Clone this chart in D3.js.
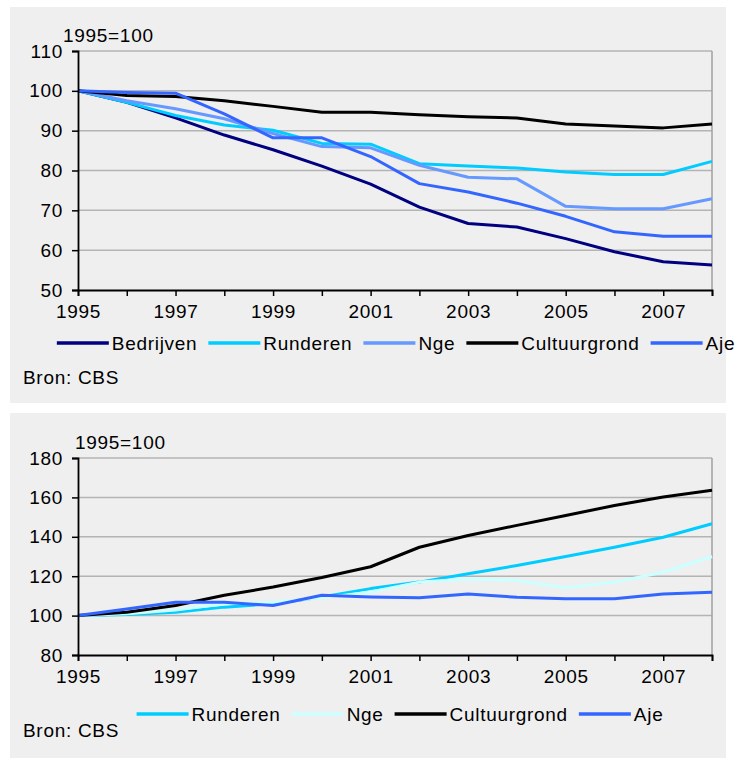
<!DOCTYPE html>
<html>
<head>
<meta charset="utf-8">
<script src="https://cdn.jsdelivr.net/npm/d3@7"></script>
<style>
    body { margin: 0; background: #ffffff; }
    svg text { font-family: "Liberation Sans", Arial, sans-serif; font-size: 19px; fill: #000; letter-spacing: 0.7px; }
</style>
</head>
<body>
<div id="chart"></div>
<script>
// Years on the x axis and the labelled ones
const years = [1995, 1996, 1997, 1998, 1999, 2000, 2001, 2002, 2003, 2004, 2005, 2006, 2007, 2008];
const yearLabels = [1995, 1997, 1999, 2001, 2003, 2005, 2007];

// Top chart (1995=100)
const topTicks = [50, 60, 70, 80, 90, 100, 110];
const bedrijven = [100, 97.1, 93.2, 88.9, 85.2, 81.1, 76.6, 70.8, 66.7, 65.8, 62.9, 59.6, 57.1, 56.3];
const runderenTop = [100, 97.1, 93.8, 91.4, 90.1, 86.8, 86.6, 81.7, 81.1, 80.6, 79.6, 79.0, 79.0, 82.3];
const ngeTop = [100, 97.5, 95.5, 93.0, 89.3, 86.0, 85.7, 81.3, 78.3, 77.9, 71.0, 70.4, 70.4, 72.9];
const cultuurgrondTop = [100, 98.8, 98.6, 97.5, 96.1, 94.6, 94.6, 94.0, 93.5, 93.2, 91.7, 91.2, 90.7, 91.7];
const ajeTop = [100, 99.6, 99.4, 94.2, 88.2, 88.2, 83.5, 76.7, 74.6, 71.8, 68.5, 64.6, 63.5, 63.5];

// Bottom chart (1995=100)
const bottomTicks = [80, 100, 120, 140, 160, 180];
const runderenBottom = [100, 100.5, 101.7, 104.3, 106.0, 109.4, 113.7, 117.0, 121.2, 125.4, 130.0, 134.7, 139.8, 146.6];
const ngeBottom = [100, 100.9, 102.9, 106.0, 106.8, 109.0, 112.0, 117.0, 118.6, 117.8, 114.1, 117.0, 122.0, 130.0];
const cultuurgrondBottom = [100, 101.7, 105.1, 110.3, 114.5, 119.3, 124.8, 134.7, 140.7, 145.8, 150.8, 155.9, 160.2, 163.6];
const ajeBottom = [100, 103.4, 106.8, 106.8, 105.1, 110.3, 109.4, 109.0, 111.0, 109.3, 108.5, 108.5, 111.0, 111.9];

class LineChart {
    constructor(_config, _series) {
        this.config = _config;
        this.series = _series;
        this.InitVis();
    }

    InitVis() {
        const vis = this;
        const c = vis.config;

        vis.g = c.svg.append("g").attr("transform", `translate(0,${c.panelTop})`);

        // Panel background
        vis.g.append("rect")
            .attr("x", 10).attr("y", 0)
            .attr("width", 716).attr("height", c.panelHeight)
            .attr("fill", "#efefef");

        vis.margin = c.margin;
        vis.width = c.plotRight - c.margin.left;
        vis.height = c.plotBottom - c.margin.top;

        vis.plot = vis.g.append("g")
            .attr("transform", `translate(${vis.margin.left},${vis.margin.top})`);

        // Scales
        vis.x = d3.scaleLinear().domain([years[0], years[years.length - 1]]).range([0, vis.width]);
        vis.y = d3.scaleLinear().domain(d3.extent(c.yTicks)).range([vis.height, 0]);

        // Grid lines
        vis.plot.append("g")
            .selectAll("line")
            .data(c.yTicks.slice(1))
            .join("line")
            .attr("x1", 0).attr("x2", vis.width)
            .attr("y1", d => vis.y(d)).attr("y2", d => vis.y(d))
            .attr("stroke", "#b4b4b4")
            .attr("stroke-width", 1.5);

        // Right border
        vis.plot.append("line")
            .attr("x1", vis.width).attr("x2", vis.width)
            .attr("y1", 0).attr("y2", vis.height)
            .attr("stroke", "#a0a0a0")
            .attr("stroke-width", 1.5);

        vis.UpdateVis();
    }

    UpdateVis() {
        const vis = this;
        vis.lineData = vis.series.map(s => ({
            name: s.name,
            color: s.color,
            values: years.map((yr, i) => ({ year: yr, value: s.values[i] }))
        }));
        vis.RenderVis();
    }

    RenderVis() {
        const vis = this;
        const c = vis.config;

        const line = d3.line()
            .x(d => vis.x(d.year))
            .y(d => vis.y(d.value));

        vis.plot.selectAll(".series")
            .data(vis.lineData)
            .join("path")
            .attr("class", "series")
            .attr("fill", "none")
            .attr("stroke", d => d.color)
            .attr("stroke-width", 3)
            .attr("stroke-linejoin", "round")
            .attr("d", d => line(d.values));

        // Axes
        const xAxis = d3.axisBottom(vis.x)
            .tickValues(years)
            .tickSize(6)
            .tickPadding(9)
            .tickFormat(d => yearLabels.includes(d) ? d : "");

        const yAxis = d3.axisLeft(vis.y)
            .tickValues(c.yTicks)
            .tickSize(6)
            .tickPadding(9)
            .tickFormat(d3.format("d"));

        const xg = vis.plot.append("g")
            .attr("transform", `translate(0,${vis.height})`)
            .call(xAxis);
        const yg = vis.plot.append("g").call(yAxis);

        [xg, yg].forEach(g => {
            g.select(".domain").attr("stroke", "#000").attr("stroke-width", 1.8);
            g.selectAll(".tick line").attr("stroke", "#000").attr("stroke-width", 1.5);
            g.selectAll("text").attr("font-size", null).attr("font-family", null).attr("fill", "#000");
        });

        // Unit label
        vis.g.append("text")
            .attr("x", c.unitX)
            .attr("y", c.unitY)
            .attr("dominant-baseline", "central")
            .text("1995=100");

        // Legend
        const legend = vis.g.append("g").attr("transform", `translate(0,${c.legendY})`);
        let xPos = 0;
        vis.lineData.forEach(s => {
            const item = legend.append("g").attr("transform", `translate(${xPos},0)`);
            item.append("line")
                .attr("x1", 0).attr("x2", 52)
                .attr("y1", 0).attr("y2", 0)
                .attr("stroke", s.color)
                .attr("stroke-width", 3.5);
            const t = item.append("text")
                .attr("x", 55)
                .attr("y", 0)
                .attr("dominant-baseline", "central")
                .text(s.name);
            xPos += 55 + t.node().getComputedTextLength() + 11;
        });
        const total = xPos - 11;
        legend.attr("transform", `translate(${c.legendCenter - total / 2},${c.legendY})`);

        // Source
        vis.g.append("text")
            .attr("x", 23)
            .attr("y", c.bronY)
            .attr("dominant-baseline", "central")
            .text("Bron: CBS");
    }
}

const svg = d3.select("#chart").append("svg")
    .attr("width", 739)
    .attr("height", 761);

new LineChart({
    svg: svg,
    panelTop: 7,
    panelHeight: 396,
    margin: { top: 44, left: 78 },
    plotRight: 712,
    plotBottom: 283,
    yTicks: topTicks,
    unitX: 63, unitY: 28,
    legendY: 336, legendCenter: 396,
    bronY: 370
}, [
    { name: "Bedrijven", color: "#000080", values: bedrijven },
    { name: "Runderen", color: "#00ccff", values: runderenTop },
    { name: "Nge", color: "#6699ff", values: ngeTop },
    { name: "Cultuurgrond", color: "#000000", values: cultuurgrondTop },
    { name: "Aje", color: "#3366ff", values: ajeTop }
]);

new LineChart({
    svg: svg,
    panelTop: 413,
    panelHeight: 345,
    margin: { top: 45, left: 78 },
    plotRight: 712,
    plotBottom: 242,
    yTicks: bottomTicks,
    unitX: 75, unitY: 29,
    legendY: 301, legendCenter: 400,
    bronY: 317
}, [
    { name: "Runderen", color: "#00ccff", values: runderenBottom },
    { name: "Nge", color: "#ccffff", values: ngeBottom },
    { name: "Cultuurgrond", color: "#000000", values: cultuurgrondBottom },
    { name: "Aje", color: "#3366ff", values: ajeBottom }
]);
</script>
</body>
</html>
